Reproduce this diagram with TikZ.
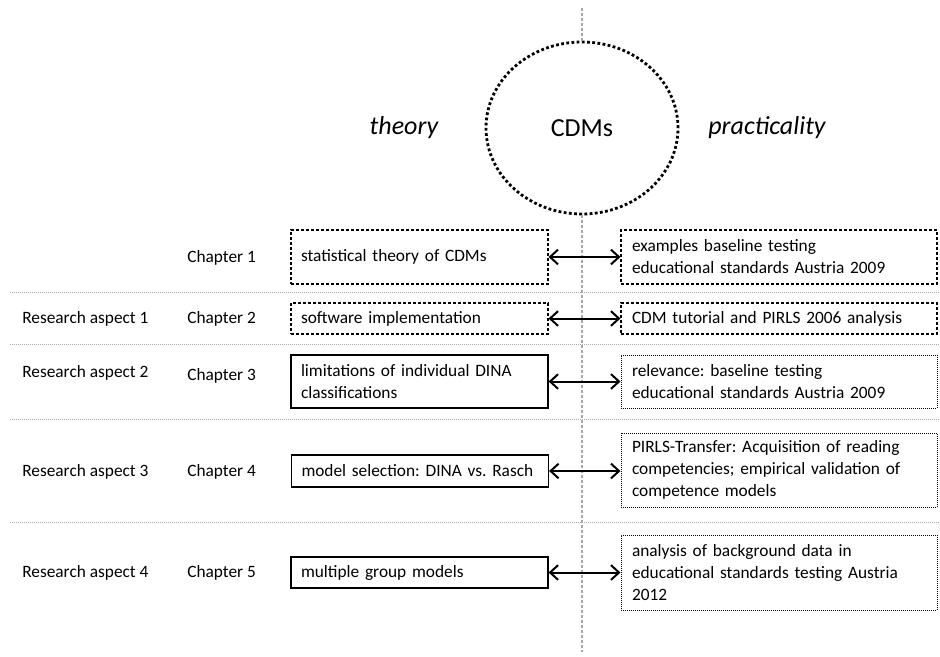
\documentclass[tikz,border=0pt]{standalone}
\usepackage{fontspec}
\setmainfont{Carlito}
\usetikzlibrary{arrows.meta,shapes.geometric}
\begin{document}
\frenchspacing
\begin{tikzpicture}[x=0.75pt,y=-0.75pt,
  body/.style={font=\fontsize{13}{16.5}\selectfont\frenchspacing},
  lbl/.style={body,anchor=west,inner sep=0pt},
  big/.style={font=\fontsize{19.5}{23}\selectfont},
  lbox/.style={body,draw,minimum width=192.75pt,text width=177.75pt,inner xsep=7.5pt,inner ysep=0pt,align=left},
  rbox/.style={body,draw,minimum width=237pt,text width=220.5pt,inner xsep=8.25pt,inner ysep=0pt,align=left},
  dashbox/.style={line width=0.8pt,dash pattern=on 2.25pt off 1.5pt},
  solidbox/.style={line width=0.9pt},
  dotbox/.style={line width=0.75pt,dash pattern=on 0.75pt off 0.75pt},
  sepline/.style={draw=black!35,line width=0.6pt,dash pattern=on 0.75pt off 0.75pt},
  vline/.style={draw=black!35,line width=2.2pt,dash pattern=on 2.25pt off 1.5pt},
  dbl/.style={line width=1.5pt,{Straight Barb[length=6pt,width=11pt]}-{Straight Barb[length=6pt,width=11pt]}}
]
\useasboundingbox (0,0) rectangle (940,657);

% separators
\draw[sepline] (10,292) -- (940,292);
\draw[sepline] (10,344) -- (940,344);
\draw[sepline] (10,419) -- (940,419);
\draw[sepline] (10,522) -- (940,522);

% vertical line and circle
\coordinate (vt) at (582,8);
\coordinate (vb) at (582,652);
\node[ellipse,draw,fill=white,line width=2.1pt,dash pattern=on 2.1pt off 1.8pt,
      minimum width=144pt,minimum height=129pt,inner sep=0pt,big] (cdm) at (582,128) {CDMs};
\draw[vline] (vt) -- (cdm.north);
\draw[vline] (cdm.south) -- (vb);

\node[font=\fontsize{19.5}{23}\selectfont\itshape] (theory) at (404,128) {theory};
\node[font=\fontsize{19.5}{23}\selectfont\itshape] (prac) at (767,128) {practicality};

% row labels
\node[lbl] (c1) at (187,258) {Chapter 1};
\node[lbl] (c2) at (187,319) {Chapter 2};
\node[lbl] (c3) at (187,376) {Chapter 3};
\node[lbl] (c4) at (187,472) {Chapter 4};
\node[lbl] (c5) at (187,573) {Chapter 5};
\node[lbl] (r1) at (22,319) {Research aspect 1};
\node[lbl] (r2) at (22,373) {Research aspect 2};
\node[lbl] (r3) at (22,472) {Research aspect 3};
\node[lbl] (r4) at (22,573) {Research aspect 4};

% boxes
\node[lbox,dashbox,minimum height=40.5pt] (l1) at (419.5,257) {statistical theory of CDMs};
\node[rbox,dashbox,minimum height=40.5pt] (p1) at (779,257) {examples baseline testing\\educational standards Austria 2009};

\node[lbox,dashbox,minimum height=23.25pt] (l2) at (419.5,318.5) {software implementation};
\node[rbox,dashbox,minimum height=23.25pt] (p2) at (779,318.5) {CDM tutorial and PIRLS 2006 analysis};

\node[lbox,solidbox,minimum height=39.75pt] (l3) at (419.5,381.5) {limitations of individual DINA\\classifications};
\node[rbox,dotbox,minimum height=39.75pt] (p3) at (779,381.5) {relevance: baseline testing\\educational standards Austria 2009};

\node[lbox,solidbox,minimum height=24pt] (l4) at (420,471) {model selection: DINA vs. Rasch};
\node[rbox,dotbox,minimum height=55.5pt] (p4) at (779,470) {PIRLS-Transfer: Acquisition of reading\\competencies; empirical validation of\\competence models};

\node[lbox,solidbox,minimum height=23.25pt] (l5) at (419.5,572.5) {multiple group models};
\node[rbox,dotbox,minimum height=56.25pt] (p5) at (779,572.5) {analysis of background data in\\educational standards testing Austria\\2012};

% arrows
\draw[dbl] (l1.east) -- (p1.west);
\draw[dbl] (l2.east) -- (p2.west);
\draw[dbl] (l3.east) -- (l3.east -| p3.west);
\draw[dbl] (l4.east) -- (l4.east -| p4.west);
\draw[dbl] (l5.east) -- (p5.west);
\end{tikzpicture}
\end{document}
